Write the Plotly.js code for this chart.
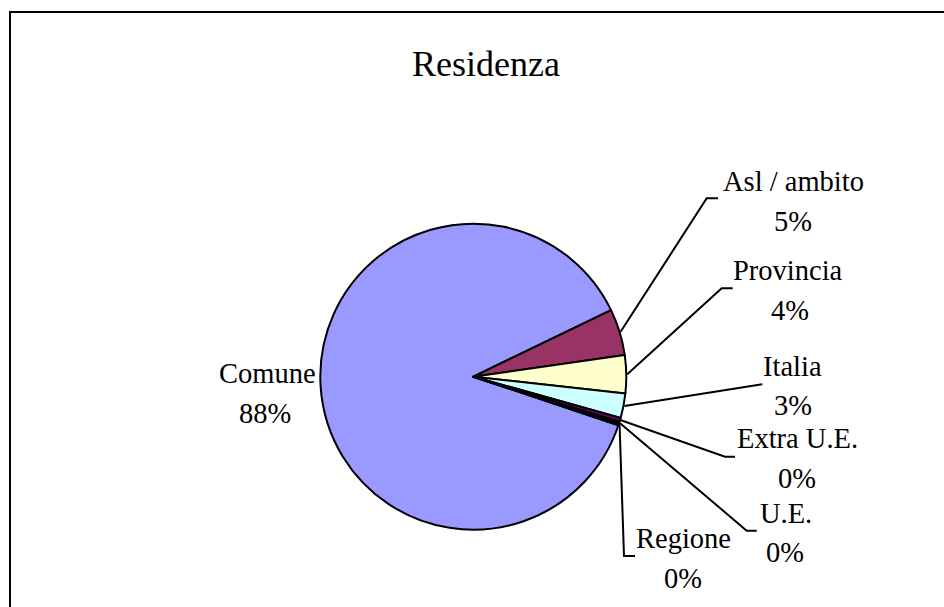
<!DOCTYPE html>
<html>
<head>
<meta charset="utf-8">
<script src="https://cdn.plot.ly/plotly-3.0.1.min.js"></script>
<style>
  html, body { margin: 0; padding: 0; background: #fff; overflow: hidden; }
  #chart { width: 944px; height: 607px; }
  #frame { position: absolute; left: 9px; top: 11px; width: 2000px; height: 2000px;
           border-left: 2px solid #000; border-top: 2px solid #000; pointer-events: none; }
</style>
</head>
<body>
<div id="chart"></div>
<div id="frame"></div>
<script>
// ---- data ----
const chartTitle = 'Residenza';
const labels = ['Comune', 'Asl / ambito', 'Provincia', 'Italia', 'Extra U.E.', 'U.E.', 'Regione'];
const values = [87.7, 4.9, 4.0, 2.6, 0.45, 0.2, 0.15];
const colors = ['#9999FF', '#993366', '#FFFFCC', '#CCFFFF', '#660066', '#FF8080', '#0066CC'];

// ---- layout (pixel positions of labels / leader elbows) ----
const W = 944, H = 607;
const cx = 473.3, cy = 376.7, R = 153;
const rotation = 108.5;
// name centre, percent centre, leader elbow, leader end (null = no leader)
const labelLayout = [
  { name: [267, 373], pct: [265, 413.7], elbow: null, end: null },
  { name: [793, 181], pct: [793.3, 221.7], elbow: [706.7, 198.3], end: [718, 198.3] },
  { name: [788, 270.8], pct: [789.5, 310.8], elbow: [721.7, 288.3], end: [732.7, 288.3] },
  { name: [792.5, 366.3], pct: [793.3, 405.8], elbow: [762.3, 384.3], end: [762.3, 384.3] },
  { name: [797.2, 438.3], pct: [796.5, 478.8], elbow: [725, 456.7], end: [735, 456.7] },
  { name: [786, 513], pct: [785, 552.5], elbow: [746.7, 530.7], end: [756.7, 530.7] },
  { name: [683.8, 538.7], pct: [683.3, 578], elbow: [624, 556], end: [635, 556] }
];

const X = px => px / W;
const Y = py => 1 - py / H;

const total = values.reduce((a, b) => a + b, 0);
const annotations = [];
const shapes = [];
let acc = 0;
const fontSpec = { family: 'Liberation Serif, Times New Roman, serif', size: 28.5, color: '#000' };
values.forEach((v, i) => {
  const mid = (rotation + (acc + v / 2) / total * 360) * Math.PI / 180;
  acc += v;
  const L = labelLayout[i];
  annotations.push({ x: X(L.name[0]), y: Y(L.name[1]), xref: 'paper', yref: 'paper',
    text: labels[i], showarrow: false, xanchor: 'center', yanchor: 'middle', font: fontSpec });
  annotations.push({ x: X(L.pct[0]), y: Y(L.pct[1]), xref: 'paper', yref: 'paper',
    text: Math.round(v / total * 100) + '%', showarrow: false, xanchor: 'center', yanchor: 'middle', font: fontSpec });
  if (L.elbow) {
    const sx = cx + (R + 1) * Math.sin(mid);
    const sy = cy - (R + 1) * Math.cos(mid);
    shapes.push({ type: 'path', xref: 'paper', yref: 'paper',
      path: `M ${X(sx)} ${Y(sy)} L ${X(L.elbow[0])} ${Y(L.elbow[1])} L ${X(L.end[0])} ${Y(L.end[1])}`,
      line: { color: '#000', width: 2 } });
  }
});

const trace = {
  type: 'pie',
  labels: labels,
  values: values,
  sort: false,
  direction: 'clockwise',
  rotation: rotation,
  textinfo: 'none',
  hoverinfo: 'label+percent',
  marker: { colors: colors, line: { color: '#000', width: 2 } },
  domain: { x: [X(cx - R), X(cx + R)], y: [Y(cy + R), Y(cy - R)] },
  showlegend: false
};

const layout = {
  width: W, height: H,
  margin: { l: 0, r: 0, t: 0, b: 0 },
  paper_bgcolor: '#fff',
  showlegend: false,
  title: { text: chartTitle, x: X(486), y: Y(63.5), xanchor: 'center', yanchor: 'middle',
           xref: 'paper', yref: 'paper',
           font: { family: 'Liberation Serif, Times New Roman, serif', size: 36, color: '#000' } },
  annotations: annotations,
  shapes: shapes
};

Plotly.newPlot('chart', [trace], layout, { displayModeBar: false, staticPlot: true });
</script>
</body>
</html>
